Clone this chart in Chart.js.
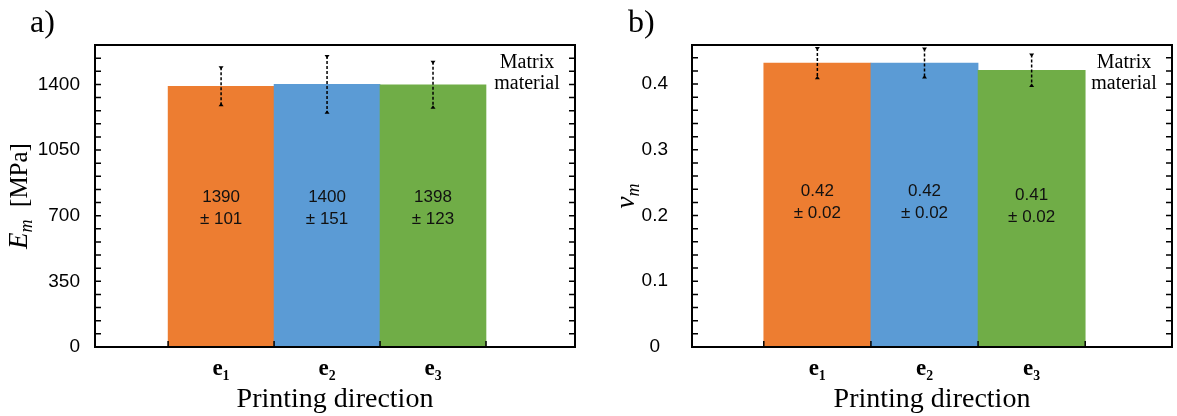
<!DOCTYPE html>
<html>
<head>
<meta charset="utf-8">
<script src="https://cdn.jsdelivr.net/npm/chart.js@4.4.1/dist/chart.umd.min.js"></script>
<style>
  body { margin: 0; background: #fff; }
  #wrap { position: relative; width: 1177px; height: 416px; }
  canvas { position: absolute; top: 0; }
  #chartA { left: 0; }
  #chartB { left: 590px; }
</style>
</head>
<body>
<div id="wrap">
  <canvas id="chartA" width="590" height="416"></canvas>
  <canvas id="chartB" width="587" height="416"></canvas>
</div>
<script>
// data
const categories = ["e₁", "e₂", "e₃"];
const barColors = ["#ED7D31", "#5B9BD5", "#70AD47"];

// a) Young's modulus
const eMean = [1390, 1400, 1398];
const eErr = [101, 151, 123];
const eText = ["1390", "1400", "1398"];
const eErrText = ["± 101", "± 151", "± 123"];
const eTicks = [0, 350, 700, 1050, 1400];
const eMax = 1610;

// b) Poisson ratio
const nuMean = [0.432, 0.432, 0.421];
const nuErr = [0.023, 0.022, 0.024];
const nuText = ["0.42", "0.42", "0.41"];
const nuErrText = ["± 0.02", "± 0.02", "± 0.02"];
const nuTicks = [0, 0.1, 0.2, 0.3, 0.4];
const nuMax = 0.4594;

const SERIF = '"Liberation Serif", "DejaVu Serif", serif';
const SANS = '"Liberation Sans", Arial, sans-serif';

function panelPlugin(p) {
    return {
        id: "panel" + p.letter,
        afterDatasetsDraw(chart) {
            const { ctx, scales: { y } } = chart;
            const meta = chart.getDatasetMeta(0);
            ctx.save();
            meta.data.forEach((bar, i) => {
                // error bar
                const yt = y.getPixelForValue(p.mean[i] + p.err[i]);
                const yb = y.getPixelForValue(p.mean[i] - p.err[i]);
                ctx.strokeStyle = "#000";
                ctx.fillStyle = "#000";
                ctx.lineWidth = 1.5;
                ctx.setLineDash([3, 2]);
                ctx.beginPath();
                ctx.moveTo(bar.x, yt);
                ctx.lineTo(bar.x, yb);
                ctx.stroke();
                ctx.setLineDash([]);
                ctx.beginPath();
                ctx.moveTo(bar.x - 2.5, yt - 1);
                ctx.lineTo(bar.x + 2.5, yt - 1);
                ctx.lineTo(bar.x, yt + 2.5);
                ctx.closePath();
                ctx.fill();
                ctx.beginPath();
                ctx.moveTo(bar.x - 2.5, yb + 1);
                ctx.lineTo(bar.x + 2.5, yb + 1);
                ctx.lineTo(bar.x, yb - 2.5);
                ctx.closePath();
                ctx.fill();

                // value text inside bar
                const yc = y.getPixelForValue(p.mean[i] * p.labelAt);
                ctx.font = "17px " + SANS;
                ctx.textAlign = "center";
                ctx.textBaseline = "middle";
                ctx.fillStyle = "#111";
                ctx.fillText(p.text[i], bar.x, yc - 11);
                ctx.fillText(p.errText[i], bar.x, yc + 11);
            });
            ctx.restore();
        },
        afterDraw(chart) {
            const { ctx, chartArea: a, scales: { x, y } } = chart;
            ctx.save();
            ctx.strokeStyle = "#000";
            ctx.lineWidth = 2;
            ctx.strokeRect(a.left, a.top, a.right - a.left, a.bottom - a.top);

            // inward ticks
            ctx.lineWidth = 1.5;
            ctx.beginPath();
            y.ticks.forEach(t => {
                const py = y.getPixelForValue(t.value);
                if (py <= a.top + 2 || py >= a.bottom - 1) return;
                ctx.moveTo(a.left, py);
                ctx.lineTo(a.left + 6, py);
                ctx.moveTo(a.right, py);
                ctx.lineTo(a.right - 6, py);
            });
            for (let i = 0; i <= categories.length; i++) {
                const px = x.getPixelForValue(i + 0.5);
                ctx.moveTo(px, a.bottom);
                ctx.lineTo(px, a.bottom - 6);
            }
            ctx.stroke();

            ctx.fillStyle = "#000";
            // Matrix material note
            ctx.font = "20px " + SERIF;
            ctx.textAlign = "center";
            ctx.textBaseline = "middle";
            ctx.fillText("Matrix", a.right - 48, a.top + 18);
            ctx.fillText("material", a.right - 48, a.top + 39);

            // panel letter
            ctx.font = "32px " + SERIF;
            ctx.textAlign = "left";
            ctx.fillText(p.letter, p.letterX, 24);

            // y title: symbol, subscript, unit
            const cy = (a.top + a.bottom) / 2;
            ctx.translate(p.titleX, cy);
            ctx.rotate(-Math.PI / 2);
            const f1 = "italic 27px " + SERIF;
            const f2 = "italic 18px " + SERIF;
            const f3 = "25px " + SERIF;
            ctx.font = f1; const w1 = ctx.measureText(p.sym).width;
            ctx.font = f2; const w2 = ctx.measureText("m").width;
            ctx.font = f3; const w3 = p.unit ? ctx.measureText(p.unit).width : 0;
            let sx = -(w1 + w2 + w3) / 2;
            ctx.textBaseline = "alphabetic";
            ctx.font = f1; ctx.fillText(p.sym, sx, 8); sx += w1;
            ctx.font = f2; ctx.fillText("m", sx, 13); sx += w2;
            if (p.unit) { ctx.font = f3; ctx.fillText(p.unit, sx, 8); }
            ctx.restore();
        }
    };
}

function makePanel(id, p) {
    new Chart(document.getElementById(id), {
        type: "bar",
        data: {
            datasets: [{
                data: p.mean.map((v, i) => ({ x: i + 1, y: v })),
                backgroundColor: barColors,
                borderWidth: 0,
                barPercentage: 1,
                categoryPercentage: 1
            }]
        },
        options: {
            responsive: false,
            animation: false,
            layout: { padding: { top: 45, right: p.padRight, left: 0, bottom: 0 } },
            plugins: { legend: { display: false }, tooltip: { enabled: false } },
            scales: {
                x: {
                    type: "linear",
                    offset: false,
                    min: p.xMin,
                    max: p.xMax,
                    grid: { display: false },
                    border: { display: false },
                    afterBuildTicks: s => { s.ticks = categories.map((c, i) => ({ value: i + 1 })); },
                    afterFit: s => { s.height = 69; },
                    ticks: {
                        autoSkip: false,
                        maxRotation: 0,
                        padding: 0,
                        color: "#000",
                        font: { family: SERIF, size: 23, weight: "bold" },
                        callback: (v, i) => categories[i]
                    },
                    title: {
                        display: true,
                        text: "Printing direction",
                        color: "#000",
                        padding: 0,
                        font: { family: SERIF, size: 28 }
                    }
                },
                y: {
                    min: 0,
                    max: p.yMax,
                    grid: { display: false },
                    border: { display: false },
                    afterBuildTicks: s => {
                        const step = (p.ticks[1] - p.ticks[0]) / 5;
                        const t = [];
                        for (let k = 0; k * step <= s.max + 1e-9; k++) t.push({ value: +(k * step).toFixed(6) });
                        s.ticks = t;
                    },
                    afterFit: s => { s.width = p.yWidth; },
                    ticks: {
                        autoSkip: false,
                        padding: p.tickPad,
                        crossAlign: p.cross,
                        color: "#000",
                        font: { family: SANS, size: 19 },
                        callback: v => p.ticks.some(m => Math.abs(m - v) < 1e-9) ? String(v) : ""
                    }
                }
            }
        },
        plugins: [panelPlugin(p)]
    });
}

makePanel("chartA", {
    letter: "a)", letterX: 30, titleX: 19, sym: "E", unit: "  [MPa]", labelAt: 0.53,
    mean: eMean, err: eErr, text: eText, errText: eErrText, ticks: eTicks,
    yMax: eMax, xMin: -0.19, xMax: 4.34, yWidth: 95, padRight: 15, tickPad: 7, cross: "near"
});

makePanel("chartB", {
    letter: "b)", letterX: 38, titleX: 36, sym: "ν", unit: "", labelAt: 0.51,
    mean: nuMean, err: nuErr, text: nuText, errText: nuErrText, ticks: nuTicks,
    yMax: nuMax, xMin: -0.17, xMax: 4.31, yWidth: 102, padRight: 5, tickPad: 16, cross: "center"
});
</script>
</body>
</html>
